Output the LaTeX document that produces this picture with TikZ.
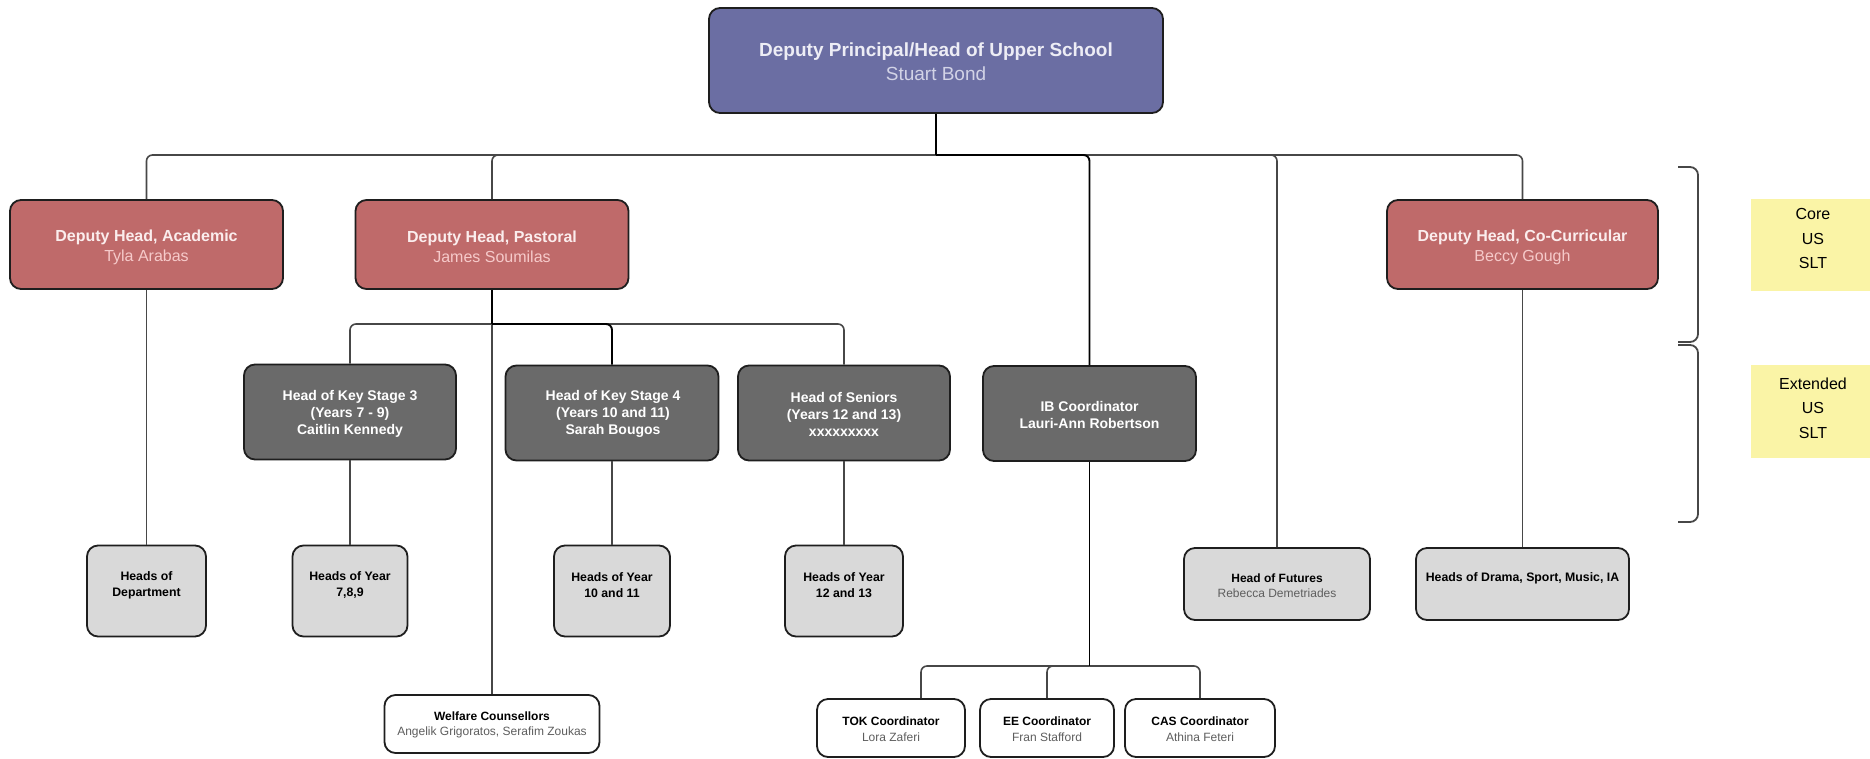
\documentclass[tikz,border=0pt]{standalone}
\usepackage{fontspec}
\setmainfont{Liberation Sans}
\usetikzlibrary{calc}
\definecolor{topfill}{HTML}{6B6EA3}
\definecolor{redfill}{HTML}{BF6A6A}
\definecolor{darkfill}{HTML}{6A6A6A}
\definecolor{lightfill}{HTML}{D9D9D9}
\definecolor{notefill}{HTML}{FAF4A6}
\definecolor{boxline}{HTML}{1E1E1E}
\definecolor{toptitle}{HTML}{EDEDF5}
\definecolor{topname}{HTML}{D2D3E6}
\definecolor{redtitle}{HTML}{FBEDED}
\definecolor{redname}{HTML}{F6CACA}
\definecolor{greyname}{HTML}{5E5E5E}
\definecolor{connc}{HTML}{474747}
\begin{document}
\begin{tikzpicture}[x=1pt,y=-1pt,
  box/.style={draw=boxline, line width=1.8pt, rounded corners=11pt, inner sep=0pt},
  txt/.style={inner sep=0pt, align=center},
  conn/.style={draw=connc, line width=1.6pt, rounded corners=6pt},
  connd/.style={draw=black, line width=1.9pt, rounded corners=6pt},
  bracket/.style={draw=connc, line width=1.8pt, rounded corners=8pt},
  note/.style={fill=notefill, draw=none, inner sep=0pt}]
\useasboundingbox[fill=white] (0,0) rectangle (1870,758);

% ---------- boxes ----------
\node[box, fill=topfill, minimum width=454, minimum height=105] (top) at (936,60.5) {};
\node[txt, text=toptitle, font=\fontsize{19}{24}\selectfont] (topT) at (936,62)
  {\textbf{Deputy Principal/Head of Upper School}\\\textcolor{topname}{Stuart Bond}};

\node[box, fill=redfill, minimum width=273, minimum height=89] (acad) at (146.5,244.5) {};
\node[txt, text=redtitle, font=\fontsize{16}{20}\selectfont] (acadT) at (146.5,247)
  {\textbf{Deputy Head, Academic}\\\textcolor{redname}{Tyla Arabas}};

\node[box, fill=redfill, minimum width=273, minimum height=89] (past) at (492,244.5) {};
\node[txt, text=redtitle, font=\fontsize{16}{20}\selectfont] (pastT) at (492,247)
  {\textbf{Deputy Head, Pastoral}\\\textcolor{redname}{James Soumilas}};

\node[box, fill=redfill, minimum width=271, minimum height=89] (cocu) at (1522.5,244.5) {};
\node[txt, text=redtitle, font=\fontsize{16}{20}\selectfont] (cocuT) at (1522.5,247)
  {\textbf{Deputy Head, Co-Curricular}\\\textcolor{redname}{Beccy Gough}};

\node[box, fill=darkfill, minimum width=212, minimum height=95] (ks3) at (350,412) {};
\node[txt, text=white, font=\fontsize{14}{17}\selectfont\bfseries] (ks3T) at (350,414)
  {Head of Key Stage 3\\(Years 7 - 9)\\Caitlin Kennedy};

\node[box, fill=darkfill, minimum width=213, minimum height=95] (ks4) at (612,413) {};
\node[txt, text=white, font=\fontsize{14}{17}\selectfont\bfseries] (ks4T) at (613,414)
  {Head of Key Stage 4\\(Years 10 and 11)\\Sarah Bougos};

\node[box, fill=darkfill, minimum width=212, minimum height=95] (sen) at (844,413) {};
\node[txt, text=white, font=\fontsize{14}{17}\selectfont\bfseries] (senT) at (844,414)
  {Head of Seniors\\(Years 12 and 13)\\xxxxxxxxx};

\node[box, fill=darkfill, minimum width=213, minimum height=95] (ib) at (1089.5,413.5) {};
\node[txt, text=white, font=\fontsize{14}{17}\selectfont\bfseries] (ibT) at (1089.5,414.5)
  {IB Coordinator\\Lauri-Ann Robertson};

\node[box, fill=lightfill, minimum width=119, minimum height=91] (hod) at (146.5,591) {};
\node[txt, font=\fontsize{12.3}{16}\selectfont\bfseries] (hodT) at (146.5,585)
  {Heads of\\Department};

\node[box, fill=lightfill, minimum width=115, minimum height=91] (hoy1) at (350,591) {};
\node[txt, font=\fontsize{12.3}{16}\selectfont\bfseries] (hoy1T) at (350,585)
  {Heads of Year\\7,8,9};

\node[box, fill=lightfill, minimum width=116, minimum height=91] (hoy2) at (612,591) {};
\node[txt, font=\fontsize{12.3}{16}\selectfont\bfseries] (hoy2T) at (612,585)
  {Heads of Year\\10 and 11};

\node[box, fill=lightfill, minimum width=118, minimum height=91] (hoy3) at (844,591) {};
\node[txt, font=\fontsize{12.3}{16}\selectfont\bfseries] (hoy3T) at (844,585)
  {Heads of Year\\12 and 13};

\node[box, fill=lightfill, minimum width=186, minimum height=72] (fut) at (1277,584) {};
\node[txt, font=\fontsize{12}{15}\selectfont] (futT) at (1277,585.5)
  {\textbf{Head of Futures}\\\textcolor{greyname}{Rebecca Demetriades}};

\node[box, fill=lightfill, minimum width=213, minimum height=72] (dra) at (1522.5,584) {};
\node[txt, font=\fontsize{12.3}{15}\selectfont\bfseries] (draT) at (1522.5,578)
  {Heads of Drama, Sport, Music, IA};

\node[box, fill=white, minimum width=215, minimum height=58] (wel) at (492,724) {};
\node[txt, font=\fontsize{12}{15}\selectfont] (welT) at (492,724.5)
  {\textbf{Welfare Counsellors}\\\textcolor{greyname}{Angelik Grigoratos, Serafim Zoukas}};

\node[box, fill=white, minimum width=148, minimum height=58] (tok) at (891,728) {};
\node[txt, font=\fontsize{12}{16}\selectfont] (tokT) at (891,729)
  {\textbf{TOK Coordinator}\\\textcolor{greyname}{Lora Zaferi}};

\node[box, fill=white, minimum width=134, minimum height=58] (ee) at (1047,728) {};
\node[txt, font=\fontsize{12}{16}\selectfont] (eeT) at (1047,729)
  {\textbf{EE Coordinator}\\\textcolor{greyname}{Fran Stafford}};

\node[box, fill=white, minimum width=150, minimum height=58] (cas) at (1200,728) {};
\node[txt, font=\fontsize{12}{16}\selectfont] (casT) at (1200,729)
  {\textbf{CAS Coordinator}\\\textcolor{greyname}{Athina Feteri}};

% ---------- sticky notes ----------
\node[note, minimum width=124, minimum height=92, anchor=north west] (core) at (1751,199) {};
\node[txt, font=\fontsize{16}{24.5}\selectfont] (coreT) at (1813,238.5) {Core\\US\\SLT};
\node[note, minimum width=124, minimum height=93, anchor=north west] (ext) at (1751,365) {};
\node[txt, font=\fontsize{16}{24.5}\selectfont] (extT) at (1813,408) {Extended\\US\\SLT};

% ---------- brackets ----------
\draw[bracket] (1678,167) -- (1698,167) -- (1698,342) -- (1678,342);
\draw[bracket] (1678,345) -- (1698,345) -- (1698,522) -- (1678,522);

% ---------- connectors ----------
\coordinate (j0) at (936,155);
\coordinate (j1) at (492,324);
\coordinate (j3) at (1089.5,666);

\draw[conn] (j0) -| (acad.north);
\draw[conn] (j0) -| (past.north);
\draw[conn] (j0) -| (cocu.north);
\draw[conn] (j0) -| (fut.north);
\draw[connd] (j0) -| (ib.north);
\draw[connd] (top.south) -- (j0);

\draw[conn] (acad.south) -- (hod.north);
\draw[conn] (cocu.south) -- (dra.north);

\draw[conn] (j1) -- (wel.north);
\draw[conn] (j1) -| (ks3.north);
\draw[conn] (j1) -| (sen.north);
\draw[connd] (j1) -| (ks4.north);
\draw[connd] (past.south) -- (j1);

\draw[conn] (ks3.south) -- (hoy1.north);
\draw[conn] (ks4.south) -- (ks4.south |- hoy2.north);
\draw[conn] (sen.south) -- (sen.south |- hoy3.north);

\draw[conn] (j3) -| ([xshift=30pt]tok.north);
\draw[conn] (j3) -| (ee.north);
\draw[conn] (j3) -| (cas.north);
\draw[connd] (ib.south) -- (j3);
\end{tikzpicture}
\end{document}
